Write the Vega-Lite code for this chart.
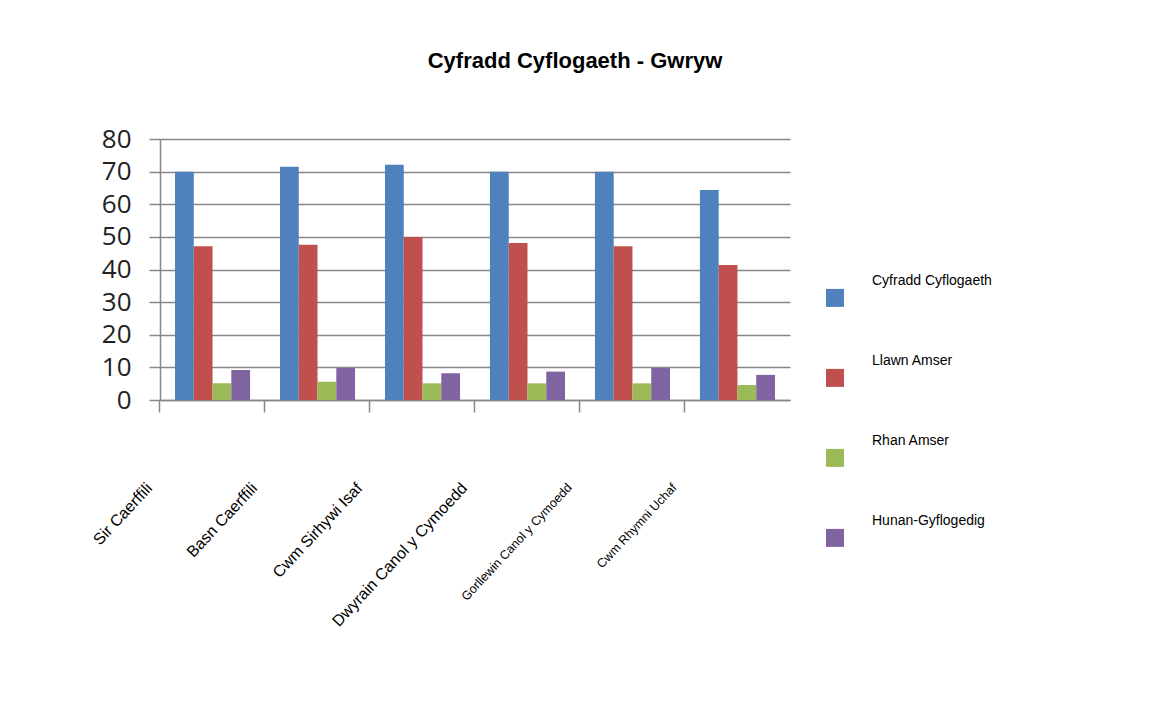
{
  "$schema": "https://vega.github.io/schema/vega-lite/v6.json",
  "width": 630,
  "height": 261,
  "padding": {"left": 5, "top": 50, "right": 5, "bottom": 5},
  "background": "white",
  "title": {
    "text": "Cyfradd Cyflogaeth - Gwryw",
    "font": "Liberation Sans",
    "fontSize": 22,
    "fontWeight": "bold",
    "color": "black",
    "anchor": "middle",
    "dx": 100,
    "offset": 53
  },
  "data": {
    "values": [
      {"ardal": "Sir Caerffili", "cyfres": "Cyfradd Cyflogaeth", "gwerth": 70.0},
      {"ardal": "Sir Caerffili", "cyfres": "Llawn Amser", "gwerth": 47.1},
      {"ardal": "Sir Caerffili", "cyfres": "Rhan Amser", "gwerth": 5.1},
      {"ardal": "Sir Caerffili", "cyfres": "Hunan-Gyflogedig", "gwerth": 9.2},
      {"ardal": "Basn Caerffili", "cyfres": "Cyfradd Cyflogaeth", "gwerth": 71.5},
      {"ardal": "Basn Caerffili", "cyfres": "Llawn Amser", "gwerth": 47.6},
      {"ardal": "Basn Caerffili", "cyfres": "Rhan Amser", "gwerth": 5.6},
      {"ardal": "Basn Caerffili", "cyfres": "Hunan-Gyflogedig", "gwerth": 9.8},
      {"ardal": "Cwm Sirhywi Isaf", "cyfres": "Cyfradd Cyflogaeth", "gwerth": 72.1},
      {"ardal": "Cwm Sirhywi Isaf", "cyfres": "Llawn Amser", "gwerth": 50.0},
      {"ardal": "Cwm Sirhywi Isaf", "cyfres": "Rhan Amser", "gwerth": 5.1},
      {"ardal": "Cwm Sirhywi Isaf", "cyfres": "Hunan-Gyflogedig", "gwerth": 8.2},
      {"ardal": "Dwyrain Canol y Cymoedd", "cyfres": "Cyfradd Cyflogaeth", "gwerth": 70.0},
      {"ardal": "Dwyrain Canol y Cymoedd", "cyfres": "Llawn Amser", "gwerth": 48.1},
      {"ardal": "Dwyrain Canol y Cymoedd", "cyfres": "Rhan Amser", "gwerth": 5.1},
      {"ardal": "Dwyrain Canol y Cymoedd", "cyfres": "Hunan-Gyflogedig", "gwerth": 8.7},
      {"ardal": "Gorllewin Canol y Cymoedd", "cyfres": "Cyfradd Cyflogaeth", "gwerth": 70.0},
      {"ardal": "Gorllewin Canol y Cymoedd", "cyfres": "Llawn Amser", "gwerth": 47.1},
      {"ardal": "Gorllewin Canol y Cymoedd", "cyfres": "Rhan Amser", "gwerth": 5.1},
      {"ardal": "Gorllewin Canol y Cymoedd", "cyfres": "Hunan-Gyflogedig", "gwerth": 9.8},
      {"ardal": "Cwm Rhymni Uchaf", "cyfres": "Cyfradd Cyflogaeth", "gwerth": 64.4},
      {"ardal": "Cwm Rhymni Uchaf", "cyfres": "Llawn Amser", "gwerth": 41.4},
      {"ardal": "Cwm Rhymni Uchaf", "cyfres": "Rhan Amser", "gwerth": 4.6},
      {"ardal": "Cwm Rhymni Uchaf", "cyfres": "Hunan-Gyflogedig", "gwerth": 7.7}
    ]
  },
  "mark": {"type": "bar"},
  "encoding": {
    "x": {
      "field": "ardal",
      "type": "nominal",
      "sort": null,
      "title": null,
      "scale": {"paddingInner": 0.285, "paddingOuter": 0.143},
      "axis": {
        "bandPosition": -0.2,
        "labelAngle": -47,
        "labelAlign": "right",
        "labelBaseline": "middle",
        "labelPadding": 73,
        "labelOffset": -63,
        "labelFont": "Liberation Sans",
        "labelFontSize": {"condition": {"test": "datum.value == 'Gorllewin Canol y Cymoedd' || datum.value == 'Cwm Rhymni Uchaf'", "value": 12.5}, "value": 16},
        "labelColor": "black",
        "labelLimit": 400,
        "labelOverlap": false,
        "tickSize": 12,
        "tickColor": "#888888",
        "domainColor": "#888888",
        "tickWidth": 1.5,
        "domainWidth": 1.5,
        "grid": false
      }
    },
    "xOffset": {
      "field": "cyfres",
      "type": "nominal",
      "sort": ["Cyfradd Cyflogaeth", "Llawn Amser", "Rhan Amser", "Hunan-Gyflogedig"],
      "scale": {"paddingInner": 0, "paddingOuter": 0}
    },
    "y": {
      "field": "gwerth",
      "type": "quantitative",
      "title": null,
      "scale": {"domain": [0, 80], "nice": false},
      "axis": {
        "values": [0, 10, 20, 30, 40, 50, 60, 70, 80],
        "labelFont": "Open Sans",
        "labelFontSize": 26,
        "labelColor": "#222222",
        "labelPadding": 18,
        "tickSize": 11,
        "tickColor": "#888888",
        "tickWidth": 1.5,
        "domainColor": "#888888",
        "domainWidth": 1.5,
        "gridColor": "#888888",
        "gridWidth": 1.5,
        "gridOpacity": 1,
        "minExtent": 155,
        "maxExtent": 155
      }
    },
    "color": {
      "field": "cyfres",
      "type": "nominal",
      "sort": ["Cyfradd Cyflogaeth", "Llawn Amser", "Rhan Amser", "Hunan-Gyflogedig"],
      "scale": {"range": ["#4F81BD", "#C0504D", "#9BBB59", "#8064A2"]},
      "legend": {
        "title": null,
        "orient": "none",
        "legendX": 666,
        "legendY": 140,
        "padding": 0,
        "symbolType": "M-1,0.1H1V2.1H-1Z",
        "symbolSize": 324,
        "symbolStrokeWidth": 0,
        "symbolOpacity": 1,
        "rowPadding": 47,
        "labelOffset": 28,
        "labelBaseline": "bottom",
        "labelFont": "Liberation Sans",
        "labelFontSize": 14,
        "labelColor": "black",
        "labelLimit": 300
      }
    }
  },
  "config": {
    "view": {"stroke": null}
  }
}
